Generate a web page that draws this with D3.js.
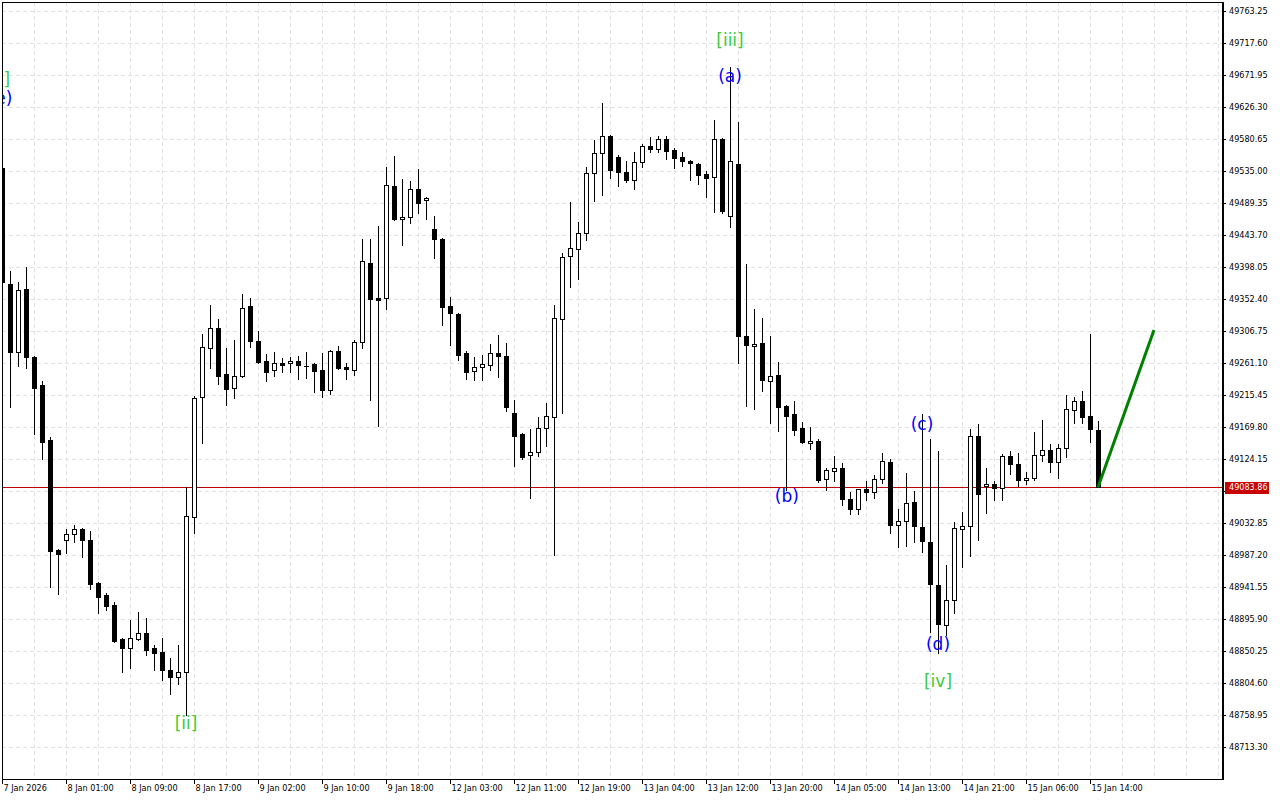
<!DOCTYPE html>
<html><head><meta charset="utf-8">
<script src="https://cdn.jsdelivr.net/npm/d3@7"></script>
<style>body{margin:0;background:#fff;}svg{display:block}</style>
</head><body>
<svg id="c" width="1280" height="800"></svg>
<script>
const opens = [49539.3,49373.8,49276.8,49366.7,49269.7,49229.7,49151.3,48994.3,49008.6,49017.2,
49024.3,49008.6,48947.3,48930.1,48915.9,48867.4,48854.5,48867.4,48875.9,48854.5,
48848.8,48823.1,48813.2,48820.3,49041.4,49212.6,49282.5,49311.0,49245.4,49225.4,
49242.6,49342.4,49292.5,49264.0,49251.1,49261.1,49261.1,49264.0,49257.5,49259.7,
49251.1,49222.6,49278.2,49255.4,49251.1,49291.1,49403.8,49353.8,49353.8,49513.6,
49466.5,49469.4,49509.3,49493.6,49452.3,49438.0,49342.4,49331.0,49275.4,49249.7,
49255.4,49258.3,49275.4,49271.1,49189.8,49159.8,49129.9,49134.1,49168.4,49184.1,
49323.9,49413.7,49423.7,49446.6,49532.1,49560.7,49584.9,49555.0,49533.6,49522.2,
49547.8,49570.7,49566.4,49580.7,49565.0,49555.0,49549.3,49545.0,49530.7,49526.4,
49580.7,49470.8,49545.0,49299.6,49285.4,49289.6,49235.4,49244.0,49199.8,49188.3,
49168.4,49147.0,49149.8,49095.6,49107.0,49111.3,49067.1,49052.8,49081.4,49077.1,
49095.6,49119.9,49030.0,49035.7,49062.8,49027.1,49005.7,48944.4,48887.3,48923.0,
49024.3,49028.6,49157.0,49085.6,49088.5,49082.8,49128.4,49117.0,49094.2,49097.0,
49129.9,49137.0,49119.9,49139.8,49194.1,49206.9,49185.5,49165.5];
const highs = [49542.1,49392.3,49376.6,49398.0,49271.1,49235.4,49155.5,48995.8,49024.3,49030.0,
49025.7,49021.4,48948.7,48933.0,48920.2,48868.8,48894.5,48905.9,48897.3,48858.8,
48868.8,48840.3,48858.8,49084.2,49214.0,49302.5,49343.8,49323.9,49282.5,49293.9,
49359.5,49353.8,49306.8,49273.9,49276.8,49268.2,49269.7,49271.1,49276.8,49261.1,
49275.4,49279.6,49285.4,49261.1,49293.9,49438.0,49438.0,49456.5,49540.7,49556.4,
49523.6,49520.7,49537.9,49497.9,49470.8,49439.4,49355.3,49332.4,49278.2,49269.7,
49272.5,49288.2,49301.0,49289.6,49208.3,49161.2,49166.9,49184.1,49204.0,49343.8,
49418.0,49490.8,49462.2,49540.7,49579.2,49632.0,49586.4,49557.8,49549.3,49562.1,
49573.5,49583.5,49584.9,49584.9,49567.8,49562.1,49550.7,49546.4,49535.0,49607.8,
49582.1,49683.4,49604.9,49402.3,49338.1,49325.3,49299.6,49262.5,49201.2,49206.9,
49176.9,49169.8,49152.7,49111.3,49128.4,49118.4,49077.1,49081.4,49092.8,49101.3,
49132.7,49124.2,49052.8,49104.2,49078.5,49188.3,49152.7,49135.6,48972.9,49034.3,
49048.5,49166.9,49174.1,49111.3,49092.8,49131.3,49135.6,49132.7,49105.6,49162.7,
49179.8,49145.6,49145.6,49215.5,49212.6,49221.2,49302.5,49178.4];
const lows = [49373.8,49198.3,49256.8,49254.0,49159.8,49124.2,48941.6,48931.6,48990.1,49005.7,
48984.4,48938.7,48904.5,48908.7,48863.1,48820.3,48826.0,48865.9,48844.5,48823.1,
48808.9,48788.9,48803.2,48758.9,49018.6,49147.0,49254.0,49231.1,49201.2,49211.2,
49241.1,49283.9,49261.1,49235.4,49242.6,49248.3,49248.3,49238.3,49239.7,49219.7,
49212.6,49216.9,49252.5,49238.3,49244.0,49282.5,49208.3,49171.2,49338.1,49465.1,
49429.4,49460.8,49475.1,49466.5,49410.9,49315.3,49286.8,49265.4,49238.3,49236.9,
49236.9,49251.1,49241.1,49192.6,49114.2,49124.2,49068.5,49128.4,49142.7,48987.2,
49189.8,49369.5,49380.9,49436.6,49492.2,49500.8,49525.0,49513.6,49519.3,49509.3,
49540.7,49562.1,49562.1,49552.1,49539.3,49542.1,49522.2,49516.5,49497.9,49476.5,
49475.1,49455.1,49261.1,49199.8,49195.5,49221.2,49175.5,49164.1,49079.9,49158.4,
49147.0,49138.4,49091.3,49079.9,49092.8,49058.5,49045.7,49045.7,49065.7,49068.5,
49089.9,49018.6,48998.6,49000.0,49005.7,48991.5,48877.4,48847.4,48873.1,48904.5,
48970.1,48985.8,49008.6,49047.1,49065.7,49065.7,49102.8,49085.6,49088.5,49094.2,
49121.3,49105.6,49097.0,49127.0,49175.5,49175.5,49148.4,49083.86];
const closes = [49376.6,49276.8,49365.2,49269.7,49225.4,49148.4,48992.9,48988.6,49017.2,49024.3,
49008.6,48945.8,48927.3,48914.4,48864.5,48854.5,48868.8,48875.9,48851.7,48847.4,
48823.1,48813.2,48820.3,49042.8,49211.2,49283.9,49311.0,49242.6,49224.0,49242.6,
49339.6,49292.5,49262.5,49248.3,49261.1,49258.3,49264.0,49258.3,49257.0,49249.7,
49222.6,49278.2,49254.0,49252.5,49291.1,49406.6,49352.4,49351.0,49515.0,49466.5,
49469.4,49509.3,49489.4,49496.5,49438.0,49341.0,49332.4,49272.5,49248.3,49255.4,
49259.7,49275.4,49271.1,49198.3,49157.0,49127.0,49134.1,49168.4,49185.5,49325.3,
49412.3,49425.2,49446.6,49532.1,49560.7,49584.9,49536.4,49533.6,49522.2,49547.8,
49570.7,49566.4,49580.7,49563.5,49553.5,49549.3,49546.4,49529.3,49525.0,49580.7,
49477.9,49549.3,49299.6,49286.8,49288.2,49236.9,49242.6,49198.3,49185.5,49165.5,
49148.4,49149.8,49094.2,49108.5,49111.3,49067.1,49052.8,49081.4,49077.1,49095.6,
49121.3,49030.0,49035.7,49061.4,49028.6,49007.2,48945.8,48888.8,48923.0,49025.7,
49028.6,49157.0,49074.2,49088.5,49082.8,49128.4,49117.0,49094.2,49097.0,49129.9,
49137.0,49119.9,49139.8,49195.5,49206.9,49184.1,49166.9,49083.86];

const timeLabels = ["7 Jan 2026","8 Jan 01:00","8 Jan 09:00","8 Jan 17:00","9 Jan 02:00","9 Jan 10:00",
"9 Jan 18:00","12 Jan 03:00","12 Jan 11:00","12 Jan 19:00","13 Jan 04:00","13 Jan 12:00",
"13 Jan 20:00","14 Jan 05:00","14 Jan 13:00","14 Jan 21:00","15 Jan 06:00","15 Jan 14:00"];
const timeLabelIdx = [0,8,16,24,32,40,48,56,64,72,80,88,96,104,112,120,128,136];
const priceTicks = [49763.25,49717.60,49671.95,49626.30,49580.65,49535.00,49489.35,49443.70,
49398.05,49352.40,49306.75,49261.10,49215.45,49169.80,49124.15,49078.50,49032.85,48987.20,
48941.55,48895.90,48850.25,48804.60,48758.95,48713.30];
const lastPrice = 49083.86;
const forecastIdx = [137,144];
const forecastPrice = [49083.86,49308.2];
const waveText = ["[i]","(e)","[ii]","[iii]","(a)","(b)","(c)","(d)","[iv]"];
const waveIdx = [-0.1,-0.2,23,91,91,98.1,115,117,117];
const wavePrice = [49666.2,49639.2,48747.5,49721.9,49670.5,49071.4,49174.1,48860.2,48807.4];
const waveColor = ["#3ccc3c","#0000ff","#3ccc3c","#3ccc3c","#0000ff","#0000ff","#0000ff","#0000ff","#3ccc3c"];

const svg = d3.select('#c');
const X0=2, X1=1222, Y0=2, Y1=779;
const x = d3.scaleLinear().domain([0,137]).range([2,1098]);
const y = d3.scaleLinear().domain([48713.30,49763.25]).range([747,11]);
const row = p => Math.round(y(p));
const col = i => Math.round(x(i));
const FONT = '"DejaVu Sans Condensed","DejaVu Sans",sans-serif';

svg.append('defs').append('clipPath').attr('id','plot')
  .append('rect').attr('x',X0+1).attr('y',Y0+1).attr('width',X1-X0-1).attr('height',Y1-Y0-1);

// grid
const grid = svg.append('g').attr('stroke','#e2e2e2').attr('stroke-dasharray','4,3')
  .attr('shape-rendering','crispEdges');
grid.selectAll('line.h').data(priceTicks).join('line').attr('class','h')
  .attr('x1',X0).attr('x2',X1).attr('y1',d=>row(d)+0.5).attr('y2',d=>row(d)+0.5);
grid.selectAll('line.v').data(d3.range(4,153,4)).join('line').attr('class','v')
  .attr('x1',d=>col(d)+0.5).attr('x2',d=>col(d)+0.5).attr('y1',Y0).attr('y2',Y1);

const plot = svg.append('g').attr('clip-path','url(#plot)');

// current price line
plot.append('line').attr('x1',X0).attr('x2',X1)
  .attr('y1',row(lastPrice)+0.5).attr('y2',row(lastPrice)+0.5)
  .attr('stroke','#c00000').attr('stroke-width',1).attr('shape-rendering','crispEdges');

const idx = d3.range(opens.length);
const cg = plot.append('g').attr('shape-rendering','crispEdges');
// wicks
cg.selectAll('line.w').data(idx).join('line').attr('class','w')
  .attr('x1',i=>col(i)+0.5).attr('x2',i=>col(i)+0.5)
  .attr('y1',i=>row(highs[i])).attr('y2',i=>row(lows[i])+1)
  .attr('stroke','#000').attr('stroke-width',1);
// bodies
cg.selectAll('rect.b').data(idx).join('rect').attr('class','b')
  .each(function(i){
    const top = row(Math.max(opens[i],closes[i]));
    const bot = row(Math.min(opens[i],closes[i]));
    const r = d3.select(this);
    if (closes[i] > opens[i] && bot-top >= 2) {
      r.attr('x',col(i)-1.5).attr('y',top+0.5).attr('width',4).attr('height',bot-top)
       .attr('fill','#fff').attr('stroke','#000').attr('stroke-width',1);
    } else {
      r.attr('x',col(i)-2).attr('y',top).attr('width',5).attr('height',Math.max(1,bot-top+1))
       .attr('fill','#000');
    }
  });

// forecast line
plot.append('path')
  .attr('d', d3.line().x((d,k)=>x(forecastIdx[k])).y((d,k)=>y(forecastPrice[k]))(forecastIdx))
  .attr('stroke','#008000').attr('stroke-width',3).attr('fill','none');

// wave labels
plot.selectAll('text.wl').data(waveText).join('text').attr('class','wl')
  .attr('x',(d,k)=>x(waveIdx[k])).attr('y',(d,k)=>y(wavePrice[k]))
  .attr('text-anchor','middle').attr('dominant-baseline','central')
  .attr('font-family','"DejaVu Sans",sans-serif').attr('font-size',17)
  .attr('fill',(d,k)=>waveColor[k]).text(d=>d);

// axes
const yAxis = d3.axisRight(y).tickValues(priceTicks).tickFormat(d3.format('.2f'))
  .tickSize(3).tickPadding(3);
const ga = svg.append('g').attr('transform',`translate(${X1+1},0)`).call(yAxis);
ga.select('.domain').remove();
ga.selectAll('text').attr('font-family',FONT).attr('font-size',9).attr('fill','#000');
ga.selectAll('line').attr('stroke','#000');

const xAxis = d3.axisBottom(x).tickValues(timeLabelIdx).tickFormat((d,k)=>timeLabels[k])
  .tickSize(5).tickPadding(1);
const gx = svg.append('g').attr('transform',`translate(0,${Y1})`).call(xAxis);
gx.select('.domain').remove();
gx.selectAll('text').attr('font-family',FONT).attr('font-size',9).attr('fill','#000')
  .attr('text-anchor','start').attr('dx',1);
gx.selectAll('line').attr('stroke','#000');

// frame
const fr = svg.append('g').attr('stroke','#000').attr('shape-rendering','crispEdges');
fr.append('line').attr('x1',X0).attr('x2',X1+2).attr('y1',Y0+0.5).attr('y2',Y0+0.5);
fr.append('line').attr('x1',X0+0.5).attr('x2',X0+0.5).attr('y1',Y0).attr('y2',Y1+1);
fr.append('line').attr('x1',X0).attr('x2',X1+2).attr('y1',Y1+0.5).attr('y2',Y1+0.5);
fr.append('line').attr('x1',X1+1).attr('x2',X1+1).attr('y1',Y0).attr('y2',Y1+1).attr('stroke-width',2);

// last price box
const lp = svg.append('g');
lp.append('rect').attr('x',X1+3).attr('y',row(lastPrice)-5).attr('width',44).attr('height',12)
  .attr('fill','#c80000');
lp.append('text').attr('x',X1+7).attr('y',row(lastPrice)+0.5).attr('dy','0.32em')
  .attr('font-family',FONT).attr('font-size',9).attr('fill','#fff').text(d3.format('.2f')(lastPrice));
</script>
</body></html>
